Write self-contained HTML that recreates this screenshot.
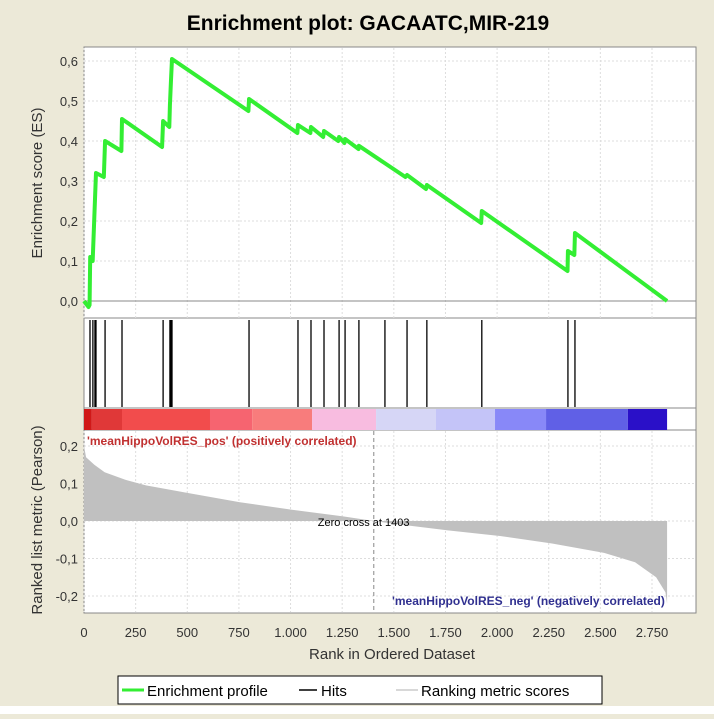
<!DOCTYPE html>
<html><head><meta charset="utf-8"><style>
body{margin:0;background:#ece9d8;}
svg text{font-family:"Liberation Sans",sans-serif;}
</style></head><body>
<svg id="c" width="714" height="714" xmlns="http://www.w3.org/2000/svg">
<rect x="0" y="0" width="714" height="714" fill="#ece9d8"/>
<rect x="0" y="706" width="714" height="8" fill="#ffffff"/>
<text x="368" y="30" font-size="21" font-weight="bold" text-anchor="middle" fill="#000">Enrichment plot: GACAATC,MIR-219</text>
<g id="g"></g>
</svg>
<script>
const esRanks=[0,22,27,30,42,50,58,96,102,181,184,378,383,413,416,421,426,796,799,1033,1036,1096,1099,1158,1162,1231,1235,1261,1264,1329,1331,1556,1564,1656,1660,1923,1926,2341,2343,2374,2377,2823];
const esValues=[0,-0.015,-0.01,0.11,0.10,0.21,0.32,0.31,0.40,0.375,0.455,0.385,0.45,0.435,0.49,0.55,0.605,0.475,0.505,0.42,0.44,0.42,0.435,0.41,0.425,0.40,0.41,0.395,0.405,0.38,0.388,0.31,0.315,0.28,0.29,0.195,0.225,0.075,0.125,0.115,0.17,0];
const hitRanks=[29,43,53,58,102,184,383,416,421,426,799,1036,1099,1162,1235,1264,1331,1457,1564,1660,1926,2343,2377];
const heatEnds=[38,184,610,814,1104,1414,1704,1990,2237,2633,2823];
const heatColors=["#d01818","#e03838","#f24c4c","#f66470","#f87c7c","#f8bce0","#d6d6f6","#c4c4f8","#8888f8","#6060e6","#2a10c8"];
const metricRanks=[0,10,50,100,200,300,500,755,1007,1259,1403,1510,1762,2014,2266,2518,2668,2770,2815,2823];
const metricValues=[0.2,0.17,0.15,0.13,0.11,0.095,0.075,0.05,0.03,0.012,0,-0.008,-0.025,-0.04,-0.06,-0.085,-0.11,-0.15,-0.19,-0.22];
const xTicks=[0,250,500,750,1000,1250,1500,1750,2000,2250,2500,2750];
const xTickLabels=["0","250","500","750","1.000","1.250","1.500","1.750","2.000","2.250","2.500","2.750"];
const esTicks=[0,0.1,0.2,0.3,0.4,0.5,0.6];
const esTickLabels=["0,0","0,1","0,2","0,3","0,4","0,5","0,6"];
const mTicks=[-0.2,-0.1,0,0.1,0.2];
const mTickLabels=["-0,2","-0,1","0,0","0,1","0,2"];
const zeroCross=1403;

const NS="http://www.w3.org/2000/svg";
const g=document.getElementById('g');
const L=84,R=696;
const X=r=>L+r*(568/2750);
const YE=v=>301-v*400;
const YM=v=>521-v*375;
function el(t,a,p){const e=document.createElementNS(NS,t);for(const k in a)e.setAttribute(k,a[k]);(p||g).appendChild(e);return e;}
function txt(s,a){const e=el('text',a);e.textContent=s;return e;}

let p=el('rect',{x:L,y:47,width:R-L,height:271,fill:'#fff',stroke:'#888'});

p=el('rect',{x:L,y:318,width:R-L,height:90,fill:'#fff',stroke:'#888'});

p=el('rect',{x:L,y:408,width:R-L,height:22,fill:'#fff',stroke:'#888'});

p=el('rect',{x:L,y:430,width:R-L,height:183,fill:'#fff',stroke:'#888'});


xTicks.forEach((t,i)=>{
  let l=el('line',{x1:X(t),x2:X(t),y1:48,y2:318,stroke:'#ddd','stroke-dasharray':'2,2'});
  
  l=el('line',{x1:X(t),x2:X(t),y1:431,y2:612,stroke:'#ddd','stroke-dasharray':'2,2'});
  
  const tx=txt(xTickLabels[i],{x:X(t),y:637,'font-size':13,'text-anchor':'middle',fill:'#333'});
  
});
esTicks.forEach((t,i)=>{
  const l=el('line',{x1:L,x2:R,y1:YE(t),y2:YE(t),stroke:t===0?'#888':'#ddd','stroke-dasharray':t===0?'':'2,2'});
  
  const tx=txt(esTickLabels[i],{x:L-6,y:YE(t)+5,'font-size':13,'text-anchor':'end',fill:'#333'});
  
});
mTicks.forEach((t,i)=>{
  const l=el('line',{x1:L,x2:R,y1:YM(t),y2:YM(t),stroke:'#ddd','stroke-dasharray':'2,2'});
  
  const tx=txt(mTickLabels[i],{x:L-6,y:YM(t)+5,'font-size':13,'text-anchor':'end',fill:'#333'});
  
});

const es=el('polyline',{points:esRanks.map((r,i)=>X(r)+','+YE(esValues[i])).join(' '),fill:'none',stroke:'#33ee33','stroke-width':4,'stroke-linejoin':'round'});



hitRanks.forEach(r=>{
  const l=el('line',{x1:X(r),x2:X(r),y1:320,y2:407,stroke:'#000','stroke-width':1.3});
  
  
});

let prev=0;
heatEnds.forEach((e,i)=>{
  const r=el('rect',{x:X(prev),y:409,width:X(e)-X(prev),height:21,fill:heatColors[i]});
  
  
  prev=e;
});

const pts=[X(0)+','+YM(0)].concat(metricRanks.map((r,i)=>X(r)+','+YM(metricValues[i]))).concat([X(metricRanks[metricRanks.length-1])+','+YM(0)]);
const ar=el('polygon',{points:pts.join(' '),fill:'#c0c0c0'});


const zc=el('line',{x1:X(zeroCross),x2:X(zeroCross),y1:431,y2:612,stroke:'#888','stroke-dasharray':'4,3'});

let t=txt('Zero cross at '+zeroCross,{x:X(zeroCross)-56,y:526,'font-size':11,fill:'#000'});

t=txt("'meanHippoVolRES_pos' (positively correlated)",{x:87,y:445,'font-size':12,'font-weight':'bold',fill:'#c03030'});

t=txt("'meanHippoVolRES_neg' (negatively correlated)",{x:392,y:605,'font-size':12,'font-weight':'bold',fill:'#303090'});

const cv=el('rect',{x:R+0.5,y:560,width:18,height:60,fill:'#ece9d8'});

const br=el('line',{x1:R,x2:R,y1:430,y2:613,stroke:'#888'});


t=txt('Enrichment score (ES)',{x:0,y:0,'font-size':15,'text-anchor':'middle',fill:'#333',transform:'translate(42,183) rotate(-90)'});

t=txt('Ranked list metric (Pearson)',{x:0,y:0,'font-size':15,'text-anchor':'middle',fill:'#333',transform:'translate(42,520) rotate(-90)'});

t=txt('Rank in Ordered Dataset',{x:392,y:659,'font-size':15,'text-anchor':'middle',fill:'#333'});


const lg=el('rect',{x:118,y:676,width:484,height:28,fill:'#fff',stroke:'#000'});

let ll=el('line',{x1:122,x2:144,y1:690,y2:690,stroke:'#33ee33','stroke-width':3});

t=txt('Enrichment profile',{x:147,y:696,'font-size':15,fill:'#000'});

ll=el('line',{x1:299,x2:317,y1:690,y2:690,stroke:'#000','stroke-width':1.5});

t=txt('Hits',{x:321,y:696,'font-size':15,fill:'#000'});

ll=el('line',{x1:396,x2:418,y1:690,y2:690,stroke:'#ccc','stroke-width':1.5});

t=txt('Ranking metric scores',{x:421,y:696,'font-size':15,fill:'#000'});

</script>
</body></html>
